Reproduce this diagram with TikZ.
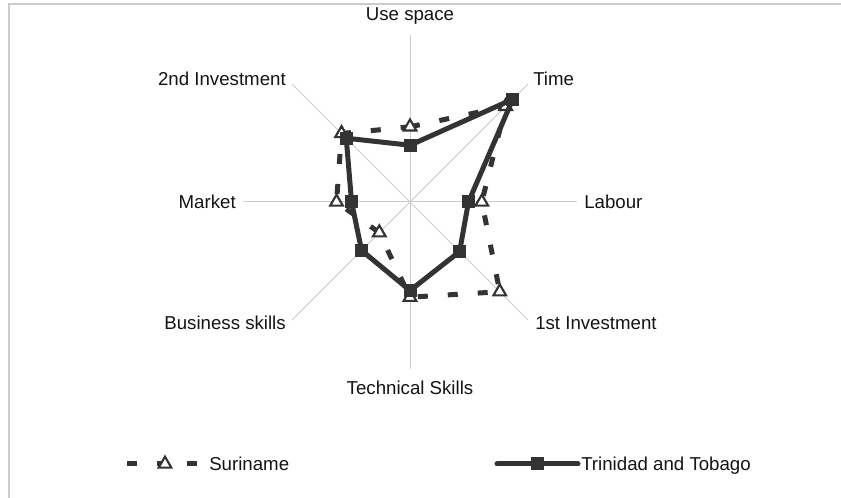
\documentclass[tikz,border=0pt]{standalone}
\usepackage{fontspec}
\setmainfont{Liberation Sans}
\usetikzlibrary{shapes.geometric}
\definecolor{ink}{RGB}{51,51,51}
\definecolor{gridgray}{RGB}{204,204,204}

\begin{document}
\begin{tikzpicture}[x=0.75pt, y=0.75pt]
  \tikzset{spoke/.style={gridgray,line width=0.75pt},
           axlabel/.style={font=\fontsize{14}{16}\selectfont,text=black!92,inner sep=0pt},
           suri/.style={ink,line width=3.75pt,dash pattern=on 7.5pt off 15pt},
           trin/.style={ink,line width=3.75pt,line join=round},
           tri/.style={regular polygon,regular polygon sides=3,draw=ink,fill=white,
                       line width=1.6pt,minimum size=11pt,inner sep=0pt},
           sq/.style={rectangle,fill=ink,minimum size=9.75pt,inner sep=0pt}}
  \useasboundingbox (0,0) rectangle (841,498);
  \draw[gridgray,line width=1.2pt] (9,-5) -- (9,494) -- (846,494);
  \coordinate (c) at (410,296);
  % spokes
  \foreach \a/\n in {90/1,45/2,0/3,-45/4,-90/5,-135/6,180/7,135/8}
    \draw[spoke] (c) -- ++(\a:167) coordinate (e\n);
  % axis labels
  \node[axlabel,anchor=base]      (usespace)   at (410,477)   {Use space};
  \node[axlabel,anchor=base west] (time)       at (533,412)   {Time};
  \node[axlabel,anchor=base west] (labour)     at (584,289.5) {Labour};
  \node[axlabel,anchor=base west] (firstinv)   at (535,168.5) {1st Investment};
  \node[axlabel,anchor=base]      (techskills) at (410,103.5) {Technical Skills};
  \node[axlabel,anchor=base east] (busskills)  at (286,168.5) {Business skills};
  \node[axlabel,anchor=base east] (market)     at (236,289.5) {Market};
  \node[axlabel,anchor=base east] (secondinv)  at (286,412)   {2nd Investment};
  % data: angle / index / Trinidad / Suriname
  \foreach \a/\n/\t/\s in {90/1/0.34/0.45, 45/2/0.87/0.81, 0/3/0.35/0.43, -45/4/0.42/0.76,
                           -90/5/0.53/0.57, -135/6/0.41/0.26, 180/7/0.35/0.44, 135/8/0.54/0.58}{
    \coordinate (t\n) at ([shift={(\a:{167*\t})}]c);
    \coordinate (s\n) at ([shift={(\a:{167*\s})}]c);
  }
  \draw[suri] (s1) -- (s2) -- (s3) -- (s4) -- (s5) -- (s6) -- (s7) -- (s8) -- cycle;
  \foreach \n in {1,...,8}
    \node[tri] (sm\n) at (s\n) {};
  \draw[trin] (t1) -- (t2) -- (t3) -- (t4) -- (t5) -- (t6) -- (t7) -- (t8) -- cycle;
  \foreach \n in {1,...,8}
    \node[sq] (tm\n) at (t\n) {};
  % legend
  \coordinate (sl1) at (127,34);
  \coordinate (sl2) at (199,34);
  \draw[suri] (sl1) -- (sl2);
  \node[tri] (surikey) at (165,34) {};
  \node[axlabel,anchor=base west] (surilabel) at (209,27.5) {Suriname};
  \coordinate (tl1) at (497,34);
  \coordinate (tl2) at (578,34);
  \draw[trin,line cap=round] (tl1) -- (tl2);
  \node[sq] (trinkey) at (537.5,34) {};
  \node[axlabel,anchor=base west] (trinlabel) at (581,27.5) {Trinidad and Tobago};
\end{tikzpicture}
\end{document}
